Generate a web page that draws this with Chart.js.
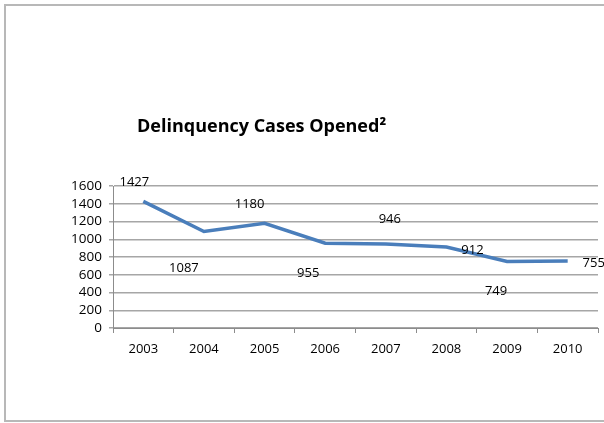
<!DOCTYPE html>
<html>
<head>
<meta charset="utf-8">
<script src="https://cdn.jsdelivr.net/npm/chart.js@4.4.1/dist/chart.umd.min.js"></script>
<style>
  html, body { margin: 0; padding: 0; background: #fff; }
  #wrap { width: 604px; height: 423px; position: relative; }
</style>
</head>
<body>
<div id="wrap"><canvas id="chart" width="604" height="423"></canvas></div>
<script>
// Data
const years = ['2003', '2004', '2005', '2006', '2007', '2008', '2009', '2010'];
const casesOpened = [1427, 1087, 1180, 955, 946, 912, 749, 755];
const yTicks = [0, 200, 400, 600, 800, 1000, 1200, 1400, 1600];
const chartTitle = 'Delinquency Cases Opened²';

// where each value label sits relative to its point (px), as in the reference
const labelOffsets = [[-9, -19], [-20, 37], [-15, -19], [-17, 30], [4, -25], [26, 3], [-11, 30], [26, 2]];

const FONT = '"Open Sans", "Liberation Sans", sans-serif';

const framePlugin = {
  id: 'frame',
  beforeDraw(chart) {
    const ctx = chart.ctx;
    ctx.save();
    ctx.fillStyle = '#fff';
    ctx.fillRect(0, 0, chart.width, chart.height);
    ctx.strokeStyle = '#b8b8b8';
    ctx.lineWidth = 2;
    ctx.strokeRect(5, 5, 640, 416);
    ctx.restore();
  },
  afterDraw(chart) {
    const ctx = chart.ctx;
    ctx.save();
    ctx.fillStyle = '#000';
    ctx.font = 'bold 18px ' + FONT;
    ctx.textBaseline = 'middle';
    ctx.textAlign = 'left';
    ctx.fillText(chartTitle, 137, 127);
    ctx.restore();
  },
};

const valueLabels = {
  id: 'valueLabels',
  afterDatasetsDraw(chart) {
    const ctx = chart.ctx;
    const meta = chart.getDatasetMeta(0);
    ctx.save();
    ctx.fillStyle = '#000';
    ctx.font = '13px ' + FONT;
    ctx.textAlign = 'center';
    ctx.textBaseline = 'middle';
    meta.data.forEach((pt, i) => {
      const [dx, dy] = labelOffsets[i];
      ctx.fillText(String(casesOpened[i]), pt.x + dx, pt.y + dy);
    });
    ctx.restore();
  },
};

new Chart(document.getElementById('chart'), {
  type: 'line',
  data: {
    labels: years,
    datasets: [{
      data: casesOpened,
      borderColor: '#4a7ebb',
      borderWidth: 3.5,
      pointRadius: 0,
      tension: 0,
      fill: false,
    }],
  },
  options: {
    responsive: false,
    animation: false,
    devicePixelRatio: 1,
    layout: { padding: { left: 0, top: 186, right: 6, bottom: 0 } },
    plugins: { legend: { display: false }, tooltip: { enabled: false }, title: { display: false } },
    scales: {
      x: {
        offset: true,
        grid: { offset: true, drawOnChartArea: false, drawTicks: true, tickLength: 5, color: '#8c8c8c' },
        border: { color: '#8c8c8c', width: 1 },
        ticks: { color: '#000', font: { family: FONT, size: 13 }, padding: 8, maxRotation: 0 },
        afterFit(axis) { axis.height = 95; },
      },
      y: {
        min: 0,
        max: 1600,
        afterBuildTicks(axis) { axis.ticks = yTicks.map((v) => ({ value: v })); },
        grid: { color: '#a6a6a6', lineWidth: 1.5, tickLength: 4 },
        border: { color: '#8c8c8c', width: 1 },
        ticks: {
          color: '#000',
          font: { family: FONT, size: 13.5 },
          padding: 7,
          autoSkip: false,
          callback: (v) => String(v),
        },
        afterFit(axis) { axis.width = 113; },
      },
    },
  },
  plugins: [framePlugin, valueLabels],
});
</script>
</body>
</html>
